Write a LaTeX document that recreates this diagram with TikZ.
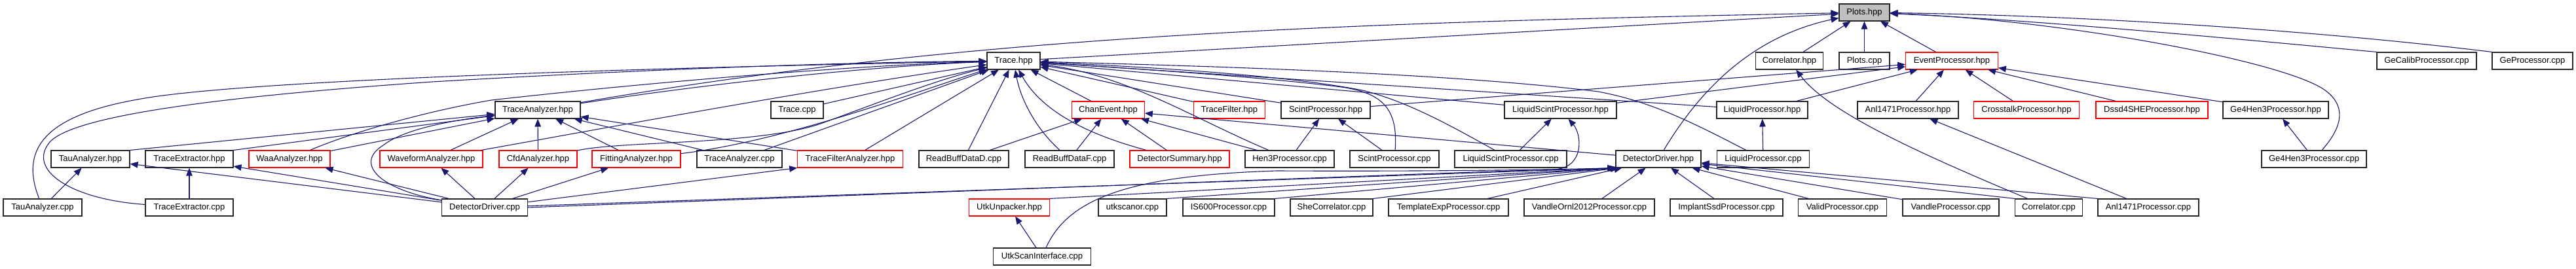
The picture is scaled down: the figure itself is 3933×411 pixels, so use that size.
\documentclass[tikz,border=0pt]{standalone}
\usepackage{fontspec}
\setmainfont{Liberation Sans}
\usetikzlibrary{arrows.meta}
\definecolor{edgec}{HTML}{191970}
\definecolor{rootfill}{HTML}{BFBFBF}
\definecolor{trunc}{HTML}{FF0000}
\tikzset{
  nb/.style={draw=black!85, fill=white, line width=1.1pt, minimum height=26pt, inner sep=0pt,
             font=\fontsize{13pt}{15pt}\selectfont, text=black},
  nr/.style={nb, draw=trunc},
  nroot/.style={nb, fill=rootfill},
  e/.style={draw=edgec, line width=1.1pt, -{Triangle[length=12pt,width=9.5pt]}}
}
\begin{document}
\begin{tikzpicture}[x=1pt,y=-1pt]
\fill[white] (0,0) rectangle (3933,411);
\useasboundingbox (0,0) rectangle (3933,411);
% row 1
\node[nroot, minimum width=77pt] (plots) at (2846.5,19) {Plots.hpp};
% row 2
\node[nb, minimum width=81pt] (trace) at (1547.5,93) {Trace.hpp};
\node[nb, minimum width=102.5pt] (corrh) at (2732,93) {Correlator.hpp};
\node[nb, minimum width=77pt] (plotscpp) at (2846.5,93) {Plots.cpp};
\node[nr, minimum width=140.5pt] (evproc) at (2980,93) {EventProcessor.hpp};
\node[nb, minimum width=152pt] (gecalib) at (3705,93) {GeCalibProcessor.cpp};
\node[nb, minimum width=123pt] (geproc) at (3866.5,93) {GeProcessor.cpp};
% row 3
\node[nb, minimum width=130pt] (tah) at (821,168) {TraceAnalyzer.hpp};
\node[nb, minimum width=80pt] (tracecpp) at (1217,168) {Trace.cpp};
\node[nr, minimum width=110.5pt] (chan) at (1692,168) {ChanEvent.hpp};
\node[nr, minimum width=109.5pt] (tfilt) at (1877,168) {TraceFilter.hpp};
\node[nb, minimum width=136pt] (scinth) at (2024,168) {ScintProcessor.hpp};
\node[nb, minimum width=171pt] (lscinth) at (2382.5,168) {LiquidScintProcessor.hpp};
\node[nb, minimum width=139pt] (liqh) at (2690.5,168) {LiquidProcessor.hpp};
\node[nb, minimum width=154pt] (anlh) at (2913,168) {Anl1471Processor.hpp};
\node[nr, minimum width=161.4pt] (xtalk) at (3094,168) {CrosstalkProcessor.hpp};
\node[nr, minimum width=171pt] (dssd) at (3285.5,168) {Dssd4SHEProcessor.hpp};
\node[nb, minimum width=161pt] (ge4h) at (3474.5,168) {Ge4Hen3Processor.hpp};
% row 4
\node[nb, minimum width=120pt] (tauh) at (138,243) {TauAnalyzer.hpp};
\node[nb, minimum width=134pt] (texh) at (289,243) {TraceExtractor.hpp};
\node[nr, minimum width=124pt] (waa) at (442,243) {WaaAnalyzer.hpp};
\node[nr, minimum width=157pt] (wave) at (658.5,243) {WaveformAnalyzer.hpp};
\node[nr, minimum width=119pt] (cfd) at (821.5,243) {CfdAnalyzer.hpp};
\node[nr, minimum width=135pt] (fit) at (971.5,243) {FittingAnalyzer.hpp};
\node[nb, minimum width=130pt] (tacpp) at (1129,243) {TraceAnalyzer.cpp};
\node[nr, minimum width=160.5pt] (tfa) at (1298,243) {TraceFilterAnalyzer.hpp};
\node[nb, minimum width=137pt] (rbd) at (1471.5,243) {ReadBuffDataD.cpp};
\node[nb, minimum width=136pt] (rbf) at (1633,243) {ReadBuffDataF.cpp};
\node[nr, minimum width=152pt] (dsum) at (1801,243) {DetectorSummary.hpp};
\node[nb, minimum width=136pt] (hen3) at (1969,243) {Hen3Processor.cpp};
\node[nb, minimum width=136pt] (scintcpp) at (2129,243) {ScintProcessor.cpp};
\node[nb, minimum width=171pt] (lscintcpp) at (2306.5,243) {LiquidScintProcessor.cpp};
\node[nb, minimum width=130pt] (ddh) at (2532,243) {DetectorDriver.hpp};
\node[nb, minimum width=140.4pt] (liqcpp) at (2692,243) {LiquidProcessor.cpp};
\node[nb, minimum width=160pt] (ge4cpp) at (3533,243) {Ge4Hen3Processor.cpp};
% row 5
\node[nb, minimum width=120pt] (taucpp) at (65,317) {TauAnalyzer.cpp};
\node[nb, minimum width=134pt] (texcpp) at (289,317) {TraceExtractor.cpp};
\node[nb, minimum width=130.5pt] (ddcpp) at (740,317) {DetectorDriver.cpp};
\node[nr, minimum width=122.5pt] (utku) at (1541,317) {UtkUnpacker.hpp};
\node[nb, minimum width=104pt] (utkscanor) at (1729,317) {utkscanor.cpp};
\node[nb, minimum width=140pt] (is600) at (1876,317) {IS600Processor.cpp};
\node[nb, minimum width=126pt] (she) at (2033,317) {SheCorrelator.cpp};
\node[nb, minimum width=183pt] (tmpl) at (2211.5,317) {TemplateExpProcessor.cpp};
\node[nb, minimum width=199pt] (vornl) at (2426.5,317) {VandleOrnl2012Processor.cpp};
\node[nb, minimum width=172pt] (implant) at (2636,317) {ImplantSsdProcessor.cpp};
\node[nb, minimum width=134.5pt] (valid) at (2813,317) {ValidProcessor.cpp};
\node[nb, minimum width=147pt] (vandle) at (2978.5,317) {VandleProcessor.cpp};
\node[nb, minimum width=102.5pt] (corrcpp) at (3128,317) {Correlator.cpp};
\node[nb, minimum width=154pt] (anlcpp) at (3280,317) {Anl1471Processor.cpp};
% row 6
\node[nb, minimum width=148.5pt] (utksi) at (1591,392) {UtkScanInterface.cpp};

% ---- edges into Plots.hpp
\draw[e] (trace) -- (plots);
\draw[e] (tah) .. controls (1500,50) and (2097,34) .. (plots);
\draw[e] (corrh) -- (plots);
\draw[e] (plotscpp) -- (plots);
\draw[e] (evproc) -- (plots);
\draw[e] (ddh) .. controls (2600,130) and (2680,55) .. (plots);
\draw[e] (gecalib.north west) .. controls (3400,58) and (3100,30) .. (plots);
\draw[e] (geproc.north west) .. controls (3550,48) and (3200,24) .. (plots);
\draw[e] (ge4cpp) .. controls (3580,190) and (3580,160) .. (3550,138) .. controls (3490,94) and (3150,30) .. (plots);

% ---- edges into Trace.hpp
\draw[e] (tah) .. controls (1100,125) and (1350,100) .. (trace);
\draw[e] (taucpp) .. controls (35,240) and (50,180) .. (210,152) .. controls (350,125) and (900,105) .. (trace);
\draw[e] (texcpp) .. controls (110,305) and (40,260) .. (76,217) .. controls (110,180) and (300,150) .. (660,125) .. controls (1000,105) and (1300,95) .. (trace);
\draw[e] (waa) .. controls (530,205) and (640,172) .. (750,153) .. controls (1000,125) and (1300,100) .. (trace);
\draw[e] (wave) .. controls (900,200) and (1250,135) .. (trace);
\draw[e] (cfd) .. controls (950,215) and (1150,222) .. (1250,190) .. controls (1320,165) and (1420,125) .. (trace);
\draw[e] (fit) .. controls (1200,215) and (1400,140) .. (trace);
\draw[e] (tacpp) -- (trace);
\draw[e] (tfa) -- (trace);
\draw[e] (tracecpp) -- (trace);
\draw[e] (rbd) -- (trace);
\draw[e] (rbf) .. controls (1580,195) and (1558,150) .. (trace);
\draw[e] (chan) -- (trace);
\draw[e] (dsum) .. controls (1640,200) and (1585,160) .. (trace);
\draw[e] (hen3) .. controls (1820,180) and (1720,115) .. (trace);
\draw[e] (scintcpp) .. controls (2135,165) and (2110,140) .. (2040,132) .. controls (1900,115) and (1700,103) .. (trace);
\draw[e] (scinth) -- (trace);
\draw[e] (tfilt) -- (trace);
\draw[e] (lscinth) -- (trace);
\draw[e] (lscintcpp) .. controls (2220,195) and (2150,155) .. (2080,138) .. controls (1950,112) and (1700,100) .. (trace);
\draw[e] (liqh) -- (trace);
\draw[e] (liqcpp) .. controls (2580,185) and (2520,155) .. (2440,140) .. controls (2200,110) and (1800,100) .. (trace);

% ---- TraceAnalyzer.hpp
\draw[e] (tauh.north east) -- (tah);
\draw[e] (texh.north east) -- (tah);
\draw[e] (waa) -- (tah);
\draw[e] (wave) -- (tah);
\draw[e] (cfd) -- (tah);
\draw[e] (fit) -- (tah);
\draw[e] (tacpp) -- (tah);
\draw[e] (tfa) -- (tah);
\draw[e] (ddcpp) .. controls (580,290) and (540,250) .. (585,222) .. controls (620,195) and (700,183) .. (tah);

% ---- DetectorDriver.cpp outgoing
\draw[e] (ddcpp) -- (tauh);
\draw[e] (ddcpp) -- (texh);
\draw[e] (ddcpp) -- (waa);
\draw[e] (ddcpp) -- (wave);
\draw[e] (ddcpp) -- (cfd);
\draw[e] (ddcpp) -- (fit);
\draw[e] (ddcpp) -- (tfa.south west);
\draw[e] (ddcpp) -- (ddh.south west);
\draw[e] (ddcpp.east) .. controls (1400,295) and (2250,262) .. (2372,259) .. controls (2420,257) and (2415,205) .. ([xshift=12pt]lscinth.south);

% ---- simple includes
\draw[e] (taucpp) -- (tauh);
\draw[e] (texcpp) -- (texh);
\draw[e] (rbd) -- (chan);
\draw[e] (rbf) -- (chan);
\draw[e] (dsum) -- (chan);
\draw[e] (hen3) -- (chan);
\draw[e] (ddh) -- (chan);
\draw[e] (hen3) -- (scinth);
\draw[e] (scintcpp) -- (scinth);
\draw[e] (lscintcpp) -- (lscinth);
\draw[e] (liqcpp) -- (liqh);
\draw[e] (ge4cpp) -- (ge4h);
\draw[e] (anlcpp) -- (anlh);
\draw[e] (corrcpp) .. controls (2920,230) and (2790,170) .. (corrh);

% ---- EventProcessor.hpp
\draw[e] (scinth) -- (evproc);
\draw[e] (lscinth) -- (evproc);
\draw[e] (liqh) -- (evproc);
\draw[e] (anlh) -- (evproc);
\draw[e] (xtalk) -- (evproc);
\draw[e] (dssd) -- (evproc);
\draw[e] (ge4h) -- (evproc);

% ---- DetectorDriver.hpp
\draw[e] (utku.north east) -- (ddh.south west);
\draw[e] (utkscanor.north east) -- (ddh.south west);
\draw[e] (is600.north east) -- ([xshift=3pt]ddh.south west);
\draw[e] (she.north east) -- ([xshift=5pt]ddh.south west);
\draw[e] (tmpl) -- ([xshift=10pt]ddh.south west);
\draw[e] (vornl) -- (ddh);
\draw[e] (implant) -- (ddh);
\draw[e] (valid) -- (ddh);
\draw[e] (vandle) -- (ddh);
\draw[e] (corrcpp.north west) -- (ddh);
\draw[e] (anlcpp.north west) -- (ddh);
\draw[e] (utksi) -- (utku);
\draw[e] (utksi) .. controls (1630,305) and (1720,268) .. (1950,261) .. controls (2150,262) and (2350,260) .. (ddh.south west);
\end{tikzpicture}
\end{document}
